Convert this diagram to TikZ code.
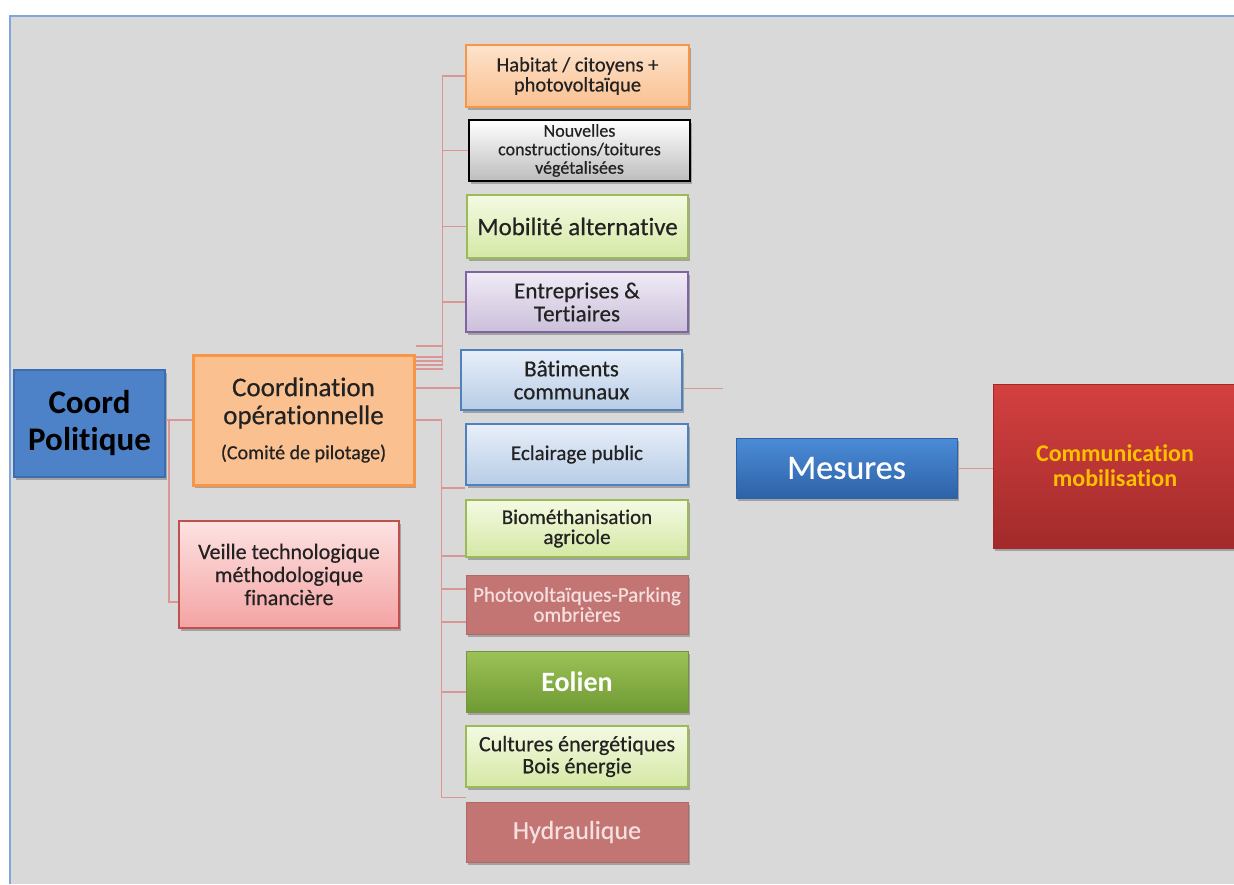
\documentclass[tikz,border=0pt]{standalone}
\usepackage{fontspec}
\setmainfont{Carlito}[Ligatures=NoCommon, UprightFeatures={FakeBold=0.5}]
\usetikzlibrary{shadows,calc}
\definecolor{bgc}{HTML}{D9D9D9}
\definecolor{framec}{HTML}{7FA7DD}
\definecolor{lc}{HTML}{D99694}
\definecolor{txt}{HTML}{222222}
\definecolor{cpfill}{HTML}{4D82C9}
\definecolor{cpdraw}{HTML}{3C6CB2}
\definecolor{orfill}{HTML}{FAC090}
\definecolor{ortop}{HTML}{FDE3CC}
\definecolor{ordraw}{HTML}{F79646}
\definecolor{pktop}{HTML}{FDE2E2}
\definecolor{pkbot}{HTML}{F4A3A3}
\definecolor{pkdraw}{HTML}{C0504D}
\definecolor{grtop}{HTML}{FFFFFF}
\definecolor{grbot}{HTML}{BDBDBD}
\definecolor{lgtop}{HTML}{F4FAE3}
\definecolor{lgbot}{HTML}{D5E8A4}
\definecolor{lgdraw}{HTML}{9BBB59}
\definecolor{lvtop}{HTML}{F0EBF6}
\definecolor{lvbot}{HTML}{CBBFDA}
\definecolor{lvdraw}{HTML}{8064A2}
\definecolor{lbtop}{HTML}{E8EFF9}
\definecolor{lbbot}{HTML}{B7CCE6}
\definecolor{lbdraw}{HTML}{4F81BD}
\definecolor{mrfill}{HTML}{C27573}
\definecolor{mrtext}{HTML}{F5E0DF}
\definecolor{eotop}{HTML}{9CC257}
\definecolor{eobot}{HTML}{6F9A33}
\definecolor{eodraw}{HTML}{77933C}
\definecolor{metop}{HTML}{4B8CD7}
\definecolor{mebot}{HTML}{2D62A7}
\definecolor{cmtop}{HTML}{D44040}
\definecolor{cmbot}{HTML}{A22A2A}
\definecolor{cmtext}{HTML}{FFC000}
\newcommand\setfs[2]{\fontsize{#1}{#2}\selectfont}
\begin{document}
\begin{tikzpicture}[x=1pt,y=-1pt,
  box/.style={rectangle, inner sep=0pt, align=center, text=txt,
    drop shadow={shadow xshift=2pt, shadow yshift=-3pt, opacity=0.25, fill=black}},
  conn/.style={draw=lc, line width=1.5pt},
  lightgreen/.style={box, top color=lgtop, bottom color=lgbot, draw=lgdraw, line width=1.5pt},
  lightblue/.style={box, top color=lbtop, bottom color=lbbot, draw=lbdraw, line width=1.5pt},
  mutedred/.style={box, fill=mrfill, draw=mrfill!90!black, line width=1pt, text=mrtext}
]
\useasboundingbox (0,0) rectangle (1234,884);
\clip (0,0) rectangle (1234,884);
\fill[white] (0,0) rectangle (1234,884);
\fill[bgc] (10,16) rectangle (1234,884);
\draw[framec, line width=2pt] (10,884) -- (10,16) -- (1234,16);

% nodes
\node[box, fill=cpfill, draw=cpdraw, line width=1.5pt, text=black,
  minimum width=151, minimum height=107, font=\bfseries\setfs{33}{37}]
  (CP) at (89.5,423.5) {Coord\\Politique};
\node[box, fill=orfill, draw=ordraw, line width=3pt,
  minimum width=221, minimum height=130, font=\setfs{27}{28}]
  (CO) at (303.5,420) {Coordination\\opérationnelle\\[7pt]{\setfs{20}{22}(Comité de pilotage)}};
\node[box, top color=pktop, bottom color=pkbot, draw=pkdraw, line width=1.5pt,
  minimum width=220, minimum height=107, font=\setfs{22}{23}]
  (VE) at (289,574.5) {Veille technologique\\méthodologique\\financière};

\node[box, top color=ortop, bottom color=orfill, draw=ordraw, line width=1.5pt,
  minimum width=223, minimum height=62, font=\setfs{20.5}{20}]
  (HA) at (577.5,76) {Habitat / citoyens +\\photovoltaïque};
\node[box, top color=grtop, bottom color=grbot, draw=black, line width=2.5pt,
  minimum width=221, minimum height=61, font=\setfs{18}{18.5}]
  (NO) at (579.5,150.5) {Nouvelles\\constructions/toitures\\végétalisées};
\node[lightgreen, minimum width=221, minimum height=63, font=\setfs{25}{25}]
  (MO) at (577.5,226.5) {Mobilité alternative};
\node[box, top color=lvtop, bottom color=lvbot, draw=lvdraw, line width=1.5pt,
  minimum width=222, minimum height=60, font=\setfs{23}{23}]
  (EN) at (577,302) {Entreprises \&\\Tertiaires};
\node[lightblue, minimum width=221, minimum height=60, font=\setfs{23}{23}]
  (BA) at (571.5,380) {Bâtiments\\communaux};
\node[lightblue, minimum width=222, minimum height=61, font=\setfs{21}{21}]
  (EC) at (577,454.5) {Eclairage public};
\node[lightgreen, minimum width=222, minimum height=57, font=\setfs{21}{20}]
  (BI) at (577,528.5) {Biométhanisation\\agricole};
\node[mutedred, minimum width=222, minimum height=59, font=\setfs{21}{20}]
  (PV) at (577,604.5) {Photovoltaïques-Parking\\ombrières};
\node[box, top color=eotop, bottom color=eobot, draw=eodraw, line width=1pt, text=white,
  minimum width=222, minimum height=61, font=\bfseries\setfs{28}{28}]
  (EO) at (577,681.5) {Eolien};
\node[lightgreen, minimum width=222, minimum height=61, font=\setfs{22}{22}]
  (CU) at (577,756.5) {Cultures énergétiques\\Bois énergie};
\node[mutedred, minimum width=222, minimum height=60, font=\setfs{26}{26}]
  (HY) at (577,832) {Hydraulique};

\node[box, top color=metop, bottom color=mebot, draw=mebot, line width=1pt, text=white,
  minimum width=221, minimum height=60, font=\setfs{34}{34}]
  (ME) at (846.5,468) {Mesures};
\node[box, top color=cmtop, bottom color=cmbot, draw=cmbot, line width=1pt, text=cmtext,
  minimum width=244, minimum height=164, font=\bfseries\setfs{24}{25}]
  (CM) at (1115,466) {Communication\\mobilisation};

% connectors
\draw[conn] (CO.west -| CP.east) -- (CO.west);
\draw[conn] ($(CO.west -| CP.east)+(3,0)$) |- ($(VE.west)+(0,27.5)$);

\draw[conn] ($(CO.east)+(0,-74)$) -- ++(27,0) |- (HA.west);
\draw[conn] ($(CO.east)+(0,-63)$) -- ++(27,0) |- (NO.west);
\draw[conn] ($(CO.east)+(0,-59)$) -- ++(27,0) |- (MO.west);
\draw[conn] ($(CO.east)+(0,-55)$) -- ++(27,0) |- (EN.west);
\draw[conn] ($(CO.east)+(0,-51)$) -- ++(27,0) coordinate (j1);

\path ($(BA.west)+(0,8)$) coordinate (b1);
\draw[conn] (b1 -| CO.east) -- (b1);
\draw[conn, line width=1pt] ($(BA.east)+(0,8)$) -- ++(40,0) coordinate (stub);

\draw[conn] (CO.east) -- ++(26,0) |- ($(EC.south west)+(0,2)$);
\draw[conn] (CO.east) -- ++(26,0) |- ($(BI.south west)+(0,-2)$);
\draw[conn] (CO.east) -- ++(26,0) |- ($(PV.west)+(0,-15.5)$);
\draw[conn] (CO.east) -- ++(26,0) |- ($(PV.west)+(0,17.5)$);
\draw[conn] (CO.east) -- ++(26,0) |- ($(EO.west)+(0,10.5)$);
\draw[conn] (CO.east) -- ++(26,0) |- ($(HY.north west)+(0,-4)$);

\draw[conn, line width=1pt] (ME.east) -- (ME.east -| CM.west);
\end{tikzpicture}
\end{document}
